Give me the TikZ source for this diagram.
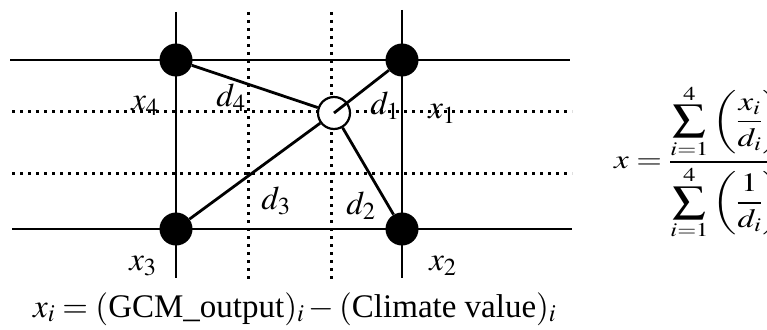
\documentclass[tikz,border=0pt]{standalone}
\usepackage{mathptmx}
\usepackage[no-math]{fontspec}
\setmainfont{Liberation Serif}
\usepackage{amsmath}
\usepackage{graphicx}
\begin{document}
\begin{tikzpicture}[x=1pt,y=-1pt,
  gridsolid/.style={line width=2.8pt},
  griddot/.style={line width=3pt,dash pattern=on 3pt off 5pt},
  station/.style={circle,fill=black,minimum size=33pt,inner sep=0pt},
  target/.style={circle,draw=black,line width=2.2pt,fill=white,minimum size=32pt,inner sep=0pt},
  link/.style={line width=2.8pt},
  lbl/.style={font=\fontsize{33}{38}\selectfont,inner sep=0pt}]
\useasboundingbox (0,0) rectangle (767,329);
\clip (0,0) rectangle (767,329);
% grid
\draw[gridsolid] (10,60) -- (570,60);
\draw[gridsolid] (12,229) -- (572,229);
\draw[gridsolid] (176,12) -- (176,278);
\draw[gridsolid] (402,10) -- (402,278);
\draw[griddot] (248,12) -- (248,280);
\draw[griddot] (331,12) -- (331,280);
\draw[griddot] (12,111) -- (572,111);
\draw[griddot] (12,173) -- (572,173);
% stations
\node[station] (n1) at (402,60) {};
\node[station] (n2) at (402,229) {};
\node[station] (n3) at (176,229) {};
\node[station] (n4) at (176,60) {};
\node[target] (p) at (334,113) {};
% connectors
\draw[link] (n1) -- (p.center);
\draw[link] (n2) -- (p);
\draw[link] (n3) -- (p);
\draw[link] (n4) -- (p);
% labels
\node[lbl] (lx4) at (145,106) {$x_4$};
\node[lbl] (ld4) at (231,98) {$d_4$};
\node[lbl] (ld1) at (385,106) {$d_1$};
\node[lbl] (lx1) at (442,114) {$x_1$};
\node[lbl] (ld3) at (276,201) {$d_3$};
\node[lbl] (ld2) at (361,206) {$d_2$};
\node[lbl] (lx3) at (143,266) {$x_3$};
\node[lbl] (lx2) at (443,266) {$x_2$};
% formula
\node[lbl,anchor=west] (formula) at (614,162) {\scalebox{1}[0.8]{$x=\dfrac{\displaystyle\sum_{i=1}^{4}\left(\dfrac{x_i}{d_i}\right)}{\displaystyle\sum_{i=1}^{4}\left(\dfrac{1}{d_i}\right)}$}};
% bottom text
\node[lbl,anchor=base west] (def) at (33,317) {$x_i=(\text{GCM\_output})_i-(\text{Climate value})_i$};
\end{tikzpicture}
\end{document}
